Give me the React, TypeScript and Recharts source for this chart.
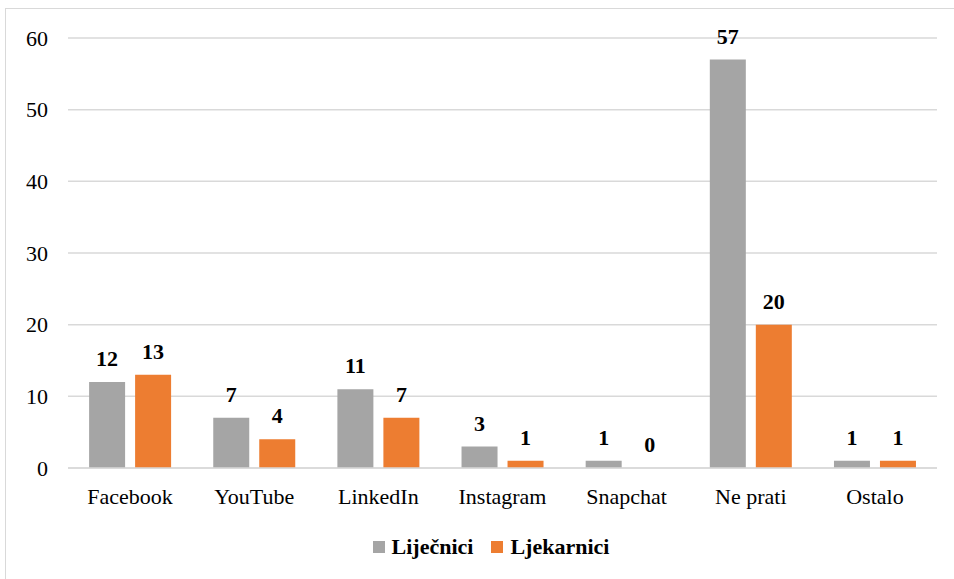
import { BarChart, Bar, XAxis, YAxis, CartesianGrid, Legend, LabelList } from "recharts";

const platforms = ["Facebook", "YouTube", "LinkedIn", "Instagram", "Snapchat", "Ne prati", "Ostalo"];
const lijecnici = [12, 7, 11, 3, 1, 57, 1];
const ljekarnici = [13, 4, 7, 1, 0, 20, 1];
const yTicks = [0, 10, 20, 30, 40, 50, 60];

const data = platforms.map((name, i) => ({
  name,
  lijecnici: lijecnici[i],
  ljekarnici: ljekarnici[i],
}));

const FONT = "Liberation Serif";
const GRAY = "#A5A5A5";
const ORANGE = "#ED7D31";

const labelStyle = { fill: "#000", fontSize: 22, fontWeight: "bold", fontFamily: FONT };

function LegendBox() {
  const items = [
    { label: "Liječnici", color: GRAY },
    { label: "Ljekarnici", color: ORANGE },
  ];
  return (
    <div style={{ display: "flex", justifyContent: "center", gap: 18, fontFamily: FONT }}>
      {items.map((it) => (
        <div key={it.label} style={{ display: "flex", alignItems: "center" }}>
          <span style={{ width: 12, height: 12, background: it.color, display: "inline-block", marginRight: 7 }} />
          <span style={{ fontSize: 22, fontWeight: "bold", color: "#000" }}>{it.label}</span>
        </div>
      ))}
    </div>
  );
}

export default function App() {
  return (
    <div style={{ position: "absolute", left: 0, top: 0, width: 954, height: 579, background: "#fff", overflow: "hidden", fontFamily: FONT }}>
      <div
        style={{
          position: "absolute",
          left: 5,
          top: 8,
          width: 980,
          height: 600,
          border: "1.5px solid #d9d9d9",
        }}
      />
      <BarChart
        width={954}
        height={579}
        data={data}
        margin={{ top: 38, right: 17, left: 0, bottom: 71 }}
        barCategoryGap="17%"
        barGap={10}
        style={{ position: "absolute", left: 0, top: 0, fontFamily: FONT }}
      >
        <CartesianGrid vertical={false} stroke="#d9d9d9" strokeWidth={1.5} />
        <XAxis
          dataKey="name"
          height={40}
          tickLine={false}
          axisLine={{ stroke: "#d9d9d9", strokeWidth: 1.5 }}
          tickMargin={14}
          tick={{ fill: "#000", fontSize: 22, fontFamily: FONT }}
          interval={0}
        />
        <YAxis
          width={68}
          domain={[0, 60]}
          ticks={yTicks}
          axisLine={false}
          tickLine={false}
          tickMargin={14}
          tick={{ fill: "#000", fontSize: 22, fontFamily: FONT }}
        />
        <Legend
          verticalAlign="middle"
          align="center"
          content={<LegendBox />}
          wrapperStyle={{ top: 534, left: 191, width: 600 }}
        />
        <Bar dataKey="lijecnici" name="Liječnici" fill={GRAY} minPointSize={0.01} isAnimationActive={false}>
          <LabelList dataKey="lijecnici" position="top" offset={16} style={labelStyle} />
        </Bar>
        <Bar dataKey="ljekarnici" name="Ljekarnici" fill={ORANGE} minPointSize={0.01} isAnimationActive={false}>
          <LabelList dataKey="ljekarnici" position="top" offset={16} style={labelStyle} />
        </Bar>
      </BarChart>
    </div>
  );
}
